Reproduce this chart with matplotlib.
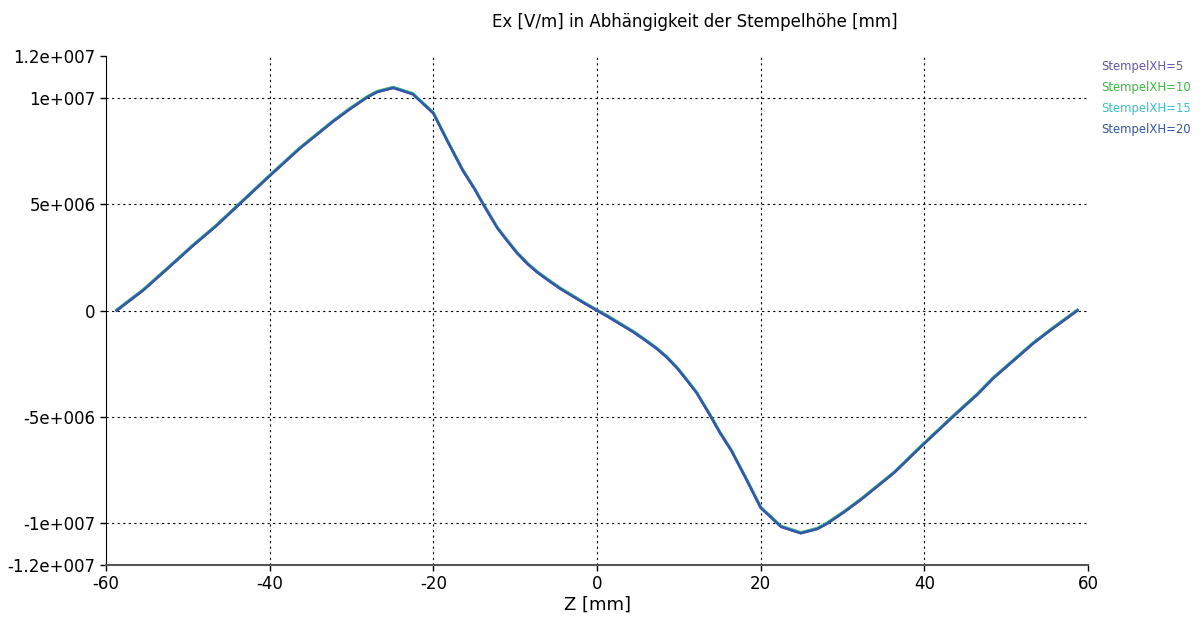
import numpy as np
import matplotlib
matplotlib.use("Agg")
import matplotlib.pyplot as plt

# Data (Ex over Z, all four curves almost identical)
z_mm = [-58.7, -55.5, -52.5, -49.4, -46.5, -43.6, -40.0, -36.3, -32.3, -30.2,
        -28.1, -26.9, -24.9, -22.5, -20.0, -18.3, -16.4, -15.0, -13.9, -12.2,
        -11.0, -9.8, -8.5, -7.3, -5.8, -4.5, -3.0, -1.5, 0.0,
        1.5, 3.0, 4.5, 5.8, 7.3, 8.5, 9.8, 11.0, 12.2, 13.9, 15.0, 16.4, 18.3,
        20.0, 22.5, 24.9, 26.9, 28.1, 30.2, 32.3, 36.3, 39.8, 43.5, 46.5, 48.4,
        53.3, 55.5, 58.7]
ex_vm = [0.0, 0.94e6, 1.97e6, 3.05e6, 4.0e6, 5.05e6, 6.35e6, 7.65e6, 8.9e6, 9.5e6,
         10.05e6, 10.3e6, 10.5e6, 10.2e6, 9.3e6, 8.0e6, 6.6e6, 5.75e6, 5.0e6, 3.9e6,
         3.3e6, 2.72e6, 2.2e6, 1.8e6, 1.38e6, 1.03e6, 0.68e6, 0.33e6, 0.0,
         -0.33e6, -0.68e6, -1.03e6, -1.38e6, -1.8e6, -2.2e6, -2.72e6, -3.3e6,
         -3.9e6, -5.0e6, -5.75e6, -6.6e6, -8.0e6, -9.3e6, -10.2e6, -10.5e6,
         -10.3e6, -10.05e6, -9.5e6, -8.9e6, -7.65e6, -6.34e6, -5.0e6, -3.95e6,
         -3.2e6, -1.55e6, -0.9e6, 0.0]
# small offsets between the overlapping curves (V/m)
series_labels = ["StempelXH=5", "StempelXH=10", "StempelXH=15", "StempelXH=20"]
series_offsets = [0.0, 0.04e6, 0.02e6, 0.0]
series_colors = ["#6655aa", "#3cb83c", "#3cc0c8", "#3456a6"]

x_ticks = [-60, -40, -20, 0, 20, 40, 60]
y_ticks = [-1.2e7, -1e7, -5e6, 0, 5e6, 1e7, 1.2e7]
y_tick_labels = ["-1.2e+007", "-1e+007", "-5e+006", "0", "5e+006", "1e+007", "1.2e+007"]

plt.rcParams["font.family"] = ["DejaVu Sans"]

fig = plt.figure(figsize=(12.02, 6.26), dpi=100)
ax = fig.add_axes([0.0882, 0.0974, 0.8170, 0.8131])

z = np.array(z_mm)
ex = np.array(ex_vm)
for label, off, col in zip(series_labels, series_offsets, series_colors):
    ax.plot(z, ex + off, color=col, linewidth=1.8, label=label)

ax.set_xlim(-60, 60)
ax.set_ylim(-1.2e7, 1.2e7)
ax.set_xticks(x_ticks)
ax.set_xticklabels([str(t) for t in x_ticks], fontsize=12)
ax.set_yticks(y_ticks)
ax.set_yticklabels(y_tick_labels, fontsize=12)
ax.tick_params(direction="out", length=4, width=1, color="black")

# Grid only on interior ticks
for t in x_ticks[1:-1]:
    ax.axvline(t, color="black", linestyle=(0, (2, 3)), linewidth=0.8, zorder=0)
for t in y_ticks[1:-1]:
    ax.axhline(t, color="black", linestyle=(0, (2, 3)), linewidth=0.8, zorder=0)

ax.spines["top"].set_visible(False)
ax.spines["right"].set_visible(False)
ax.spines["left"].set_color("black")
ax.spines["bottom"].set_color("#555555")
ax.spines["bottom"].set_linewidth(1.5)

ax.set_xlabel("Z [mm]", fontsize=13, labelpad=2)
fig.text(0.578, 0.965, "Ex [V/m] in Abhängigkeit der Stempelhöhe [mm]",
         ha="center", va="center", fontsize=12)

# Legend drawn as coloured text only
for i, (label, col) in enumerate(zip(series_labels, series_colors)):
    fig.text(0.916, 0.893 - i * 0.0335, label, color=col, fontsize=8.4,
             ha="left", va="center")

fig.savefig("out.png", dpi=100)
